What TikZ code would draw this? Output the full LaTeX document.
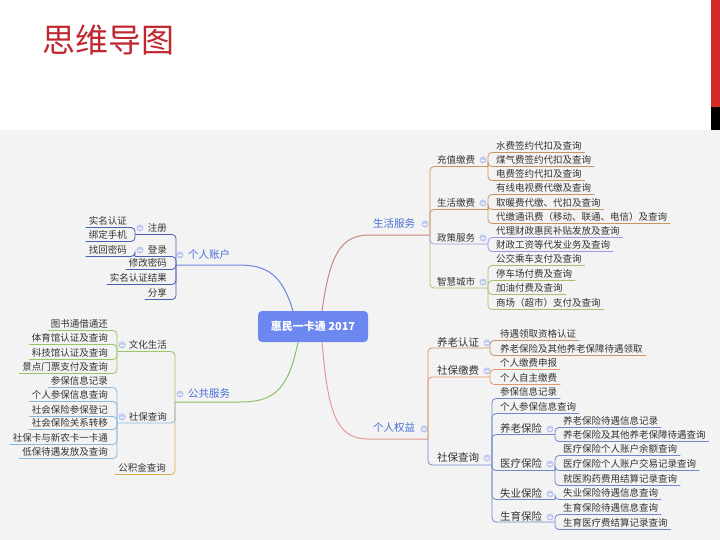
\documentclass[tikz,border=0pt]{standalone}
\usepackage{fontspec}
\setmainfont{Noto Sans CJK SC}
\definecolor{titlered}{HTML}{C0282F}
\definecolor{barred}{HTML}{D42A2A}
\definecolor{bggray}{HTML}{F3F3F3}
\definecolor{nodeblue}{HTML}{6D87F0}
\definecolor{mainblue}{HTML}{4A6FD8}
\definecolor{txt}{HTML}{333333}
\definecolor{dotc}{HTML}{C6D0F0}
\definecolor{cShenghuo}{HTML}{C58A80}
\definecolor{cQuanyi}{HTML}{E39A95}
\definecolor{cZhanghu}{HTML}{6C84E6}
\definecolor{cGonggong}{HTML}{8CC06A}
\definecolor{cBrown}{HTML}{C9955F}
\definecolor{cPurple}{HTML}{A596E0}
\definecolor{cGreen}{HTML}{A9C06E}
\definecolor{cTan}{HTML}{C9956A}
\definecolor{cSalmon}{HTML}{E8956A}
\definecolor{cBlue}{HTML}{7088D0}
\definecolor{cNavy}{HTML}{4A5FB0}
\definecolor{cLGreen}{HTML}{9CC46A}
\definecolor{cLBlue}{HTML}{88B8E0}
\definecolor{cGold}{HTML}{D4B048}
\begin{document}
\begin{tikzpicture}[x=1pt,y=-1pt,
  leaf/.style={inner sep=0pt, font=\fontsize{9.5}{10}\selectfont, text=txt},
  sub/.style={inner sep=0pt, font=\fontsize{9.5}{10}\selectfont, text=txt},
  subL/.style={inner sep=0pt, font=\fontsize{10.5}{11}\selectfont, text=txt},
  mainlab/.style={inner sep=0pt, font=\fontsize{10.5}{11}\selectfont, text=mainblue},
  ln/.style={line width=0.8pt, rounded corners=4pt},
  curve/.style={line width=1pt},
  dotm/.style={circle, fill=dotc, draw=dotc!85!blue, line width=0.3pt, inner sep=0pt, minimum size=6.5pt,
    path picture={\draw[white, line width=0.6pt] ([xshift=-1.6pt]path picture bounding box.center) -- ([xshift=1.6pt]path picture bounding box.center);}},
  rl/.style={shift={(3pt,-6.5pt)}},
  ll/.style={shift={(-3pt,-6.5pt)}}
]
\useasboundingbox (0,0) rectangle (720,540);
\fill[bggray] (0,130) rectangle (720,540);
\fill[barred] (711,0) rectangle (720,107);
\fill[black] (711,107) rectangle (720,130);
\node[font=\fontsize{33}{36}\selectfont, text=titlered, anchor=west, inner sep=0pt] (title) at (42,40) {思维导图};

% central node
\node[rounded corners=4pt, fill=nodeblue, minimum width=110pt, minimum height=31pt, inner sep=0pt,
  text=white, font=\fontsize{11}{12}\selectfont\bfseries] (root) at (313,326.5) {惠民一卡通 2017};

% spine coordinates
\coordinate (sS) at (430,235);
\coordinate (sQ) at (428,439);
\coordinate (sZ) at (176,265);
\coordinate (sG) at (175,402);

% main curves
\draw[curve,cShenghuo] ([xshift=9pt]root.north) .. controls (330,255) and (340,235) .. (370,235) -- (sS);
\draw[curve,cQuanyi] ([xshift=9pt]root.south) .. controls (328,410) and (335,439) .. (368,439) -- (sQ);
\draw[curve,cZhanghu] ([xshift=-20pt]root.north) .. controls (282,275) and (268,265) .. (238,265) -- (sZ);
\draw[curve,cGonggong] ([xshift=-15pt]root.south) .. controls (288,392) and (272,402) .. (240,402) -- (sG);

% main labels
\node[mainlab, anchor=west] (shfw) at (373,224) {生活服务};
\node[mainlab, anchor=west] (grqy) at (373,428) {个人权益};
\node[mainlab, anchor=west] (grzh) at (188,255) {个人账户};
\node[mainlab, anchor=west] (ggfw) at (188,394) {公共服务};
\node[dotm] at (425,224) {};
\node[dotm] at (424,429) {};
\node[dotm] at (180,255) {};
\node[dotm] at (180,394) {};

%%%%%%%% RIGHT TOP: 生活服务
\node[sub, anchor=west] (czjf) at (437,160) {充值缴费};
\node[sub, anchor=west] (shjf) at (437,203) {生活缴费};
\node[sub, anchor=west] (zcfw) at (437,238) {政策服务};
\node[sub, anchor=west] (zhcs) at (437,282) {智慧城市};
\foreach \yy in {160,203,238,282} \node[dotm] at (483,\yy) {};
\coordinate (pCz) at (488,166.5);
\coordinate (pSh) at (488,209.5);
\coordinate (pZc) at (488,244);
\coordinate (pZh) at (488,288);
\draw[ln,cBrown] (sS) |- (pCz);
\draw[ln,cGreen] (sS) |- (pZh);
\draw[ln,cBrown] (sS) |- (pSh);
\draw[ln,cPurple] (sS) |- (pZc);

\node[leaf, anchor=west] (r1) at (496,146) {水费签约代扣及查询};
\node[leaf, anchor=west] (r2) at (496,160) {煤气费签约代扣及查询};
\node[leaf, anchor=west] (r3) at (496,174) {电费签约代扣及查询};
\node[leaf, anchor=west] (r4) at (496,188) {有线电视费代缴及查询};
\node[leaf, anchor=west] (r5) at (496,203) {取暖费代缴、代扣及查询};
\node[leaf, anchor=west] (r6) at (496,217) {代缴通讯费（移动、联通、电信）及查询};
\node[leaf, anchor=west] (r7) at (496,231) {代理财政惠民补贴发放及查询};
\node[leaf, anchor=west] (r8) at (496,245) {财政工资等代发业务及查询};
\node[leaf, anchor=west] (r9) at (496,259) {公交乘车支付及查询};
\node[leaf, anchor=west] (r10) at (496,274) {停车场付费及查询};
\node[leaf, anchor=west] (r11) at (496,288) {加油付费及查询};
\node[leaf, anchor=west] (r12) at (496,303) {商场（超市）支付及查询};
\foreach \n in {r1,r2,r3} \draw[ln,cBrown] (pCz) |- ([rl]\n.east);
\foreach \n in {r4,r5,r6} \draw[ln,cBrown] (pSh) |- ([rl]\n.east);
\foreach \n in {r7,r8} \draw[ln,cPurple] (pZc) |- ([rl]\n.east);
\foreach \n in {r9,r10,r11,r12} \draw[ln,cGreen] (pZh) |- ([rl]\n.east);

%%%%%%%% RIGHT BOTTOM: 个人权益
\node[subL, anchor=west] (ylrz) at (437,342) {养老认证};
\node[subL, anchor=west] (sbjf) at (437,370) {社保缴费};
\node[subL, anchor=west] (sbcx) at (437,457) {社保查询};
\foreach \yy in {343,371,458} \node[dotm] at (487,\yy) {};
\coordinate (pYl) at (490,348);
\coordinate (pSj) at (490,377);
\coordinate (pSc) at (492,465);
\draw[ln,cTan] (sQ) |- (pYl);
\draw[ln,cSalmon] (sQ) |- (pSj);
\draw[ln,cBlue] (sQ) |- (pSc);

\node[leaf, anchor=west] (q1) at (500,334) {待遇领取资格认证};
\node[leaf, anchor=west] (q2) at (500,349) {养老保险及其他养老保障待遇领取};
\node[leaf, anchor=west] (q3) at (500,363) {个人缴费申报};
\node[leaf, anchor=west] (q4) at (500,378) {个人自主缴费};
\foreach \n in {q1,q2} \draw[ln,cTan] (pYl) |- ([rl]\n.east);
\foreach \n in {q3,q4} \draw[ln,cSalmon] (pSj) |- ([rl]\n.east);

\node[leaf, anchor=west] (q5) at (500,392) {参保信息记录};
\node[leaf, anchor=west] (q6) at (500,407) {个人参保信息查询};
\node[subL, anchor=west] (ylbx) at (500,428) {养老保险};
\node[subL, anchor=west] (ylbx2) at (500,463) {医疗保险};
\node[subL, anchor=west] (sybx) at (500,493) {失业保险};
\node[subL, anchor=west] (sybx2) at (500,516) {生育保险};
\foreach \yy in {429,464,494,517} \node[dotm] at (550,\yy) {};
\coordinate (pYb) at (555,434.5);
\coordinate (pYi) at (555,470.5);
\coordinate (pSy) at (555,499.5);
\coordinate (pSe) at (555,522);
\draw[ln,cBlue] (pSc) |- ([rl]q5.east);
\draw[ln,cBlue] (pSc) |- ([rl]q6.east);
\draw[ln,cBlue] (pSc) |- (pYb);
\draw[ln,cBlue] (pSc) |- (pSe);
\draw[ln,cBlue] (pSc) |- (pSy);
\draw[ln,cBlue] (pSc) |- (pYi);

\node[leaf, anchor=west] (q7) at (563,421) {养老保险待遇信息记录};
\node[leaf, anchor=west] (q8) at (563,435) {养老保险及其他养老保障待遇查询};
\node[leaf, anchor=west] (q9) at (563,449) {医疗保险个人账户余额查询};
\node[leaf, anchor=west] (q10) at (563,464) {医疗保险个人账户交易记录查询};
\node[leaf, anchor=west] (q11) at (563,479) {就医购药费用结算记录查询};
\node[leaf, anchor=west] (q12) at (563,493) {失业保险待遇信息查询};
\node[leaf, anchor=west] (q13) at (563,508) {生育保险待遇信息查询};
\node[leaf, anchor=west] (q14) at (563,523) {生育医疗费结算记录查询};
\foreach \n in {q7,q8} \draw[ln,cBlue] (pYb) |- ([rl]\n.east);
\foreach \n in {q9,q10,q11} \draw[ln,cBlue] (pYi) |- ([rl]\n.east);
\draw[ln,cBlue] (pSy) |- ([rl]q12.east);
\foreach \n in {q13,q14} \draw[ln,cBlue] (pSe) |- ([rl]\n.east);

%%%%%%%% LEFT TOP: 个人账户
\node[sub, anchor=east] (zc) at (167,228) {注册};
\node[sub, anchor=east] (dl) at (167,250) {登录};
\node[leaf, anchor=east] (xgmm) at (167,263) {修改密码};
\node[leaf, anchor=east] (smjg) at (167,278) {实名认证结果};
\node[leaf, anchor=east] (fx) at (167,293) {分享};
\node[dotm] at (140,228) {};
\node[dotm] at (140,250) {};
\coordinate (pZc2) at (135,234.5);
\coordinate (pDl) at (135,256.5);
\draw[ln,cNavy] (sZ) |- (pZc2);
\draw[ln,cNavy] (sZ) |- ([ll]fx.west);
\draw[ln,cNavy] (sZ) |- ([ll]smjg.west);
\draw[ln,cNavy] (sZ) |- ([ll]xgmm.west);
\draw[ln,cNavy] (sZ) |- (pDl);
\node[leaf, anchor=east] (l1) at (127,221) {实名认证};
\node[leaf, anchor=east] (l2) at (127,235) {绑定手机};
\node[leaf, anchor=east] (l3) at (127,250) {找回密码};
\foreach \n in {l1,l2} \draw[ln,cNavy] (pZc2) |- ([ll]\n.west);
\draw[ln,cNavy] (pDl) |- ([ll]l3.west);

%%%%%%%% LEFT BOTTOM: 公共服务
\node[sub, anchor=east] (whsh) at (167,345) {文化生活};
\node[sub, anchor=east] (sbcxL) at (167,417) {社保查询};
\node[sub, anchor=east] (gjj) at (166,468) {公积金查询};
\node[dotm] at (122,345) {};
\node[dotm] at (122,417) {};
\coordinate (pWh) at (117,351.5);
\coordinate (pSl) at (117,423);
\draw[ln,cGold] (sG) |- ([ll]gjj.west);
\draw[ln,cLGreen] (sG) |- (pWh);
\draw[ln,cLBlue] (sG) |- (pSl);

\node[leaf, anchor=east] (w1) at (108,324) {图书通借通还};
\node[leaf, anchor=east] (w2) at (108,338) {体育馆认证及查询};
\node[leaf, anchor=east] (w3) at (108,353) {科技馆认证及查询};
\node[leaf, anchor=east] (w4) at (108,367) {景点门票支付及查询};
\foreach \n in {w1,w2,w3,w4} \draw[ln,cLGreen] (pWh) |- ([ll]\n.west);

\node[leaf, anchor=east] (s1) at (108,381) {参保信息记录};
\node[leaf, anchor=east] (s2) at (108,395) {个人参保信息查询};
\node[leaf, anchor=east] (s3) at (108,410) {社会保险参保登记};
\node[leaf, anchor=east] (s4) at (108,423) {社会保险关系转移};
\node[leaf, anchor=east] (s5) at (108,438) {社保卡与新农卡一卡通};
\node[leaf, anchor=east] (s6) at (108,452) {低保待遇发放及查询};
\foreach \n in {s1,s2,s3,s4,s5,s6} \draw[ln,cLBlue] (pSl) |- ([ll]\n.west);
\end{tikzpicture}
\end{document}
